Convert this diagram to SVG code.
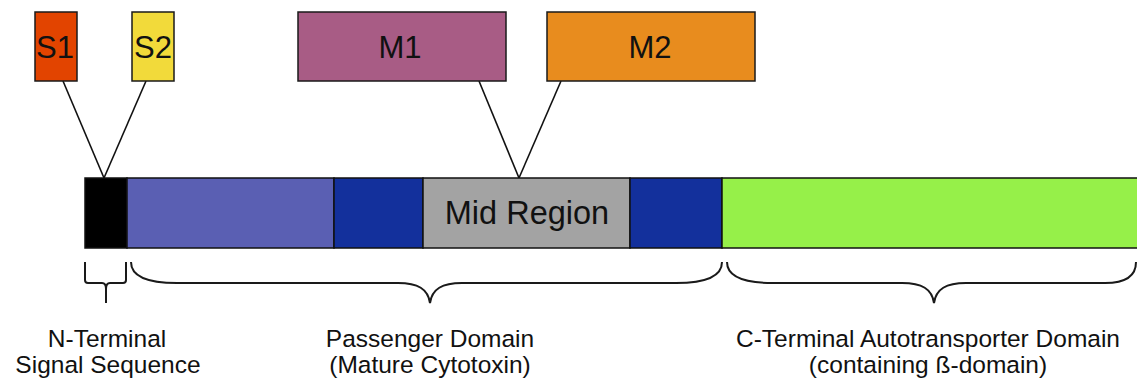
<svg xmlns="http://www.w3.org/2000/svg" width="1137" height="379" viewBox="0 0 1137 379">
<style>
.box{stroke:#1a1a1a;stroke-width:1.5}
.seg{stroke:#111;stroke-width:1.5}
.lbl{font-family:"Liberation Sans",Arial,sans-serif;font-size:31px;fill:#111;text-anchor:middle}
.cap{font-family:"Liberation Sans",Arial,sans-serif;font-size:24.5px;fill:#111;text-anchor:middle}
.conn{stroke:#111;stroke-width:1.6;fill:none}
.brace{stroke:#1a1a1a;stroke-width:2;fill:none}
</style>
<rect width="1137" height="379" fill="#fff"/>
<g id="connectors">
<line class="conn" x1="63" y1="81" x2="104" y2="178"/>
<line class="conn" x1="146" y1="81" x2="104" y2="178"/>
<line class="conn" x1="479" y1="81" x2="519" y2="178"/>
<line class="conn" x1="561" y1="81" x2="519" y2="178"/>
</g>
<g id="S1"><rect class="box" x="35" y="12" width="42" height="69" fill="#E24400"/><text class="lbl" x="55" y="58">S1</text></g>
<g id="S2"><rect class="box" x="132" y="12" width="42" height="69" fill="#F2DA3A"/><text class="lbl" x="153" y="58">S2</text></g>
<g id="M1"><rect class="box" x="298" y="12" width="208" height="69" fill="#A85C85"/><text class="lbl" x="400" y="58">M1</text></g>
<g id="M2"><rect class="box" x="547" y="12" width="208" height="69" fill="#E88C1E"/><text class="lbl" x="650" y="58">M2</text></g>
<g id="bar">
<rect class="seg" x="85" y="178" width="42" height="70" fill="#000"/>
<rect class="seg" x="127" y="178" width="207" height="70" fill="#5A5FB3"/>
<rect class="seg" x="334" y="178" width="89" height="70" fill="#13309C"/>
<rect class="seg" x="423" y="178" width="207" height="70" fill="#A3A3A3"/>
<rect class="seg" x="630" y="178" width="92" height="70" fill="#13309C"/>
<rect class="seg" x="722" y="178" width="416" height="70" fill="#96F049"/>
<text class="lbl" x="527" y="224" style="font-size:32.5px">Mid Region</text>
</g>
<g id="brace-n">
<path class="brace" d="M85,262 L85,280 Q85,283 88,283 L102,283 Q106,283 106,289 L106,303 M106,289 Q106,283 110,283 L123,283 Q126,283 126,280 L126,262"/>
<text class="cap" x="107" y="347">N-Terminal</text>
<text class="cap" x="108" y="373">Signal Sequence</text>
</g>
<g id="brace-p">
<path class="brace" d="M131,262 C131,278 150,283 177,283 L398,283 C418,283 428,289 430,303 C432,289 442,283 462,283 L676,283 C703,283 722,278 722,262"/>
<text class="cap" x="430" y="347">Passenger Domain</text>
<text class="cap" x="430" y="373">(Mature Cytotoxin)</text>
</g>
<g id="brace-c">
<path class="brace" d="M727,262 C727,278 746,283 773,283 L902,283 C922,283 932,289 934,303 C936,289 946,283 966,283 L1105,283 C1126,283 1136,276 1136,262"/>
<text class="cap" x="928" y="347">C-Terminal Autotransporter Domain</text>
<text class="cap" x="928" y="373">(containing ß-domain)</text>
</g>
</svg>
